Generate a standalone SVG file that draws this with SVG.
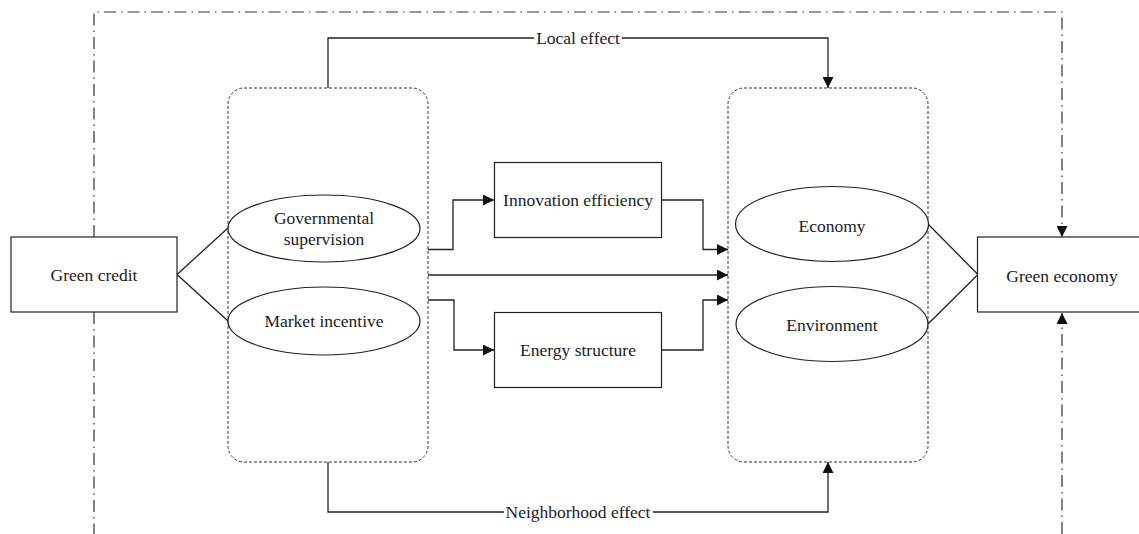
<svg xmlns="http://www.w3.org/2000/svg" width="1139" height="534" viewBox="0 0 1139 534">
<style>
text{font-family:"Liberation Serif","Times New Roman",serif;font-size:17.5px;fill:#222;text-anchor:middle}
.box{fill:#fff;stroke:#222;stroke-width:1.2}
.ell{fill:#fff;stroke:#222;stroke-width:1.2}
.grp{fill:none;stroke:#333;stroke-width:1;stroke-dasharray:3 2}
.ln{fill:none;stroke:#222;stroke-width:1.3}
.arr{fill:none;stroke:#222;stroke-width:1.3;marker-end:url(#ah)}
.dd{fill:none;stroke:#333;stroke-width:1.2;stroke-dasharray:12 5 1.5 5}
.lbl{fill:#fff;stroke:none}
</style>
<defs>
<marker id="ah" markerUnits="userSpaceOnUse" markerWidth="12" markerHeight="11" refX="11" refY="5.5" orient="auto">
<path d="M0,0 L11,5.5 L0,11 z" fill="#111"/>
</marker>
</defs>
<rect width="1139" height="534" fill="#fff"/>
<g id="connectors">
<path class="dd" d="M94,237 V12 H1062 V237" marker-end="url(#ah)"/>
<path class="dd" d="M94,312 V534"/>
<path class="dd" d="M1062,534 V313" marker-end="url(#ah)"/>
<path class="arr" d="M328,88 V38 H828 V88"/>
<path class="arr" d="M328,462 V512 H828 V462"/>
<rect class="lbl" x="534" y="28" width="88" height="20"/>
<text x="578" y="44">Local effect</text>
<rect class="lbl" x="504" y="502" width="149" height="20"/>
<text x="578" y="518">Neighborhood effect</text>
<path class="arr" d="M428,249.5 H453 V200 H494"/>
<path class="arr" d="M661.5,200 H703 V249.5 H728"/>
<path class="arr" d="M428,275 H728"/>
<path class="arr" d="M428,300 H454 V350 H494"/>
<path class="arr" d="M661.5,350 H703 V300 H728"/>
<path class="ln" d="M228,228 L177,274.5 L228,321"/>
<path class="ln" d="M928,224 L978,274.5 L928,324"/>
</g>
<g id="left-group">
<rect class="grp" x="228" y="88" width="200" height="374" rx="16"/>
</g>
<g id="right-group">
<rect class="grp" x="728" y="88" width="200" height="374" rx="16"/>
</g>
<g id="green-credit">
<rect class="box" x="11" y="237" width="166" height="75"/>
<text x="94" y="281">Green credit</text>
</g>
<g id="green-economy">
<rect class="box" x="977.5" y="237" width="170" height="75"/>
<text x="1062" y="282">Green economy</text>
</g>
<g id="governmental-supervision">
<ellipse class="ell" cx="324" cy="228.5" rx="96" ry="33.5"/>
<text x="324" y="224">Governmental</text>
<text x="324" y="245">supervision</text>
</g>
<g id="market-incentive">
<ellipse class="ell" cx="324" cy="321" rx="96" ry="34"/>
<text x="324" y="327">Market incentive</text>
</g>
<g id="innovation-efficiency">
<rect class="box" x="494.5" y="162.5" width="167" height="75"/>
<text x="578" y="206">Innovation efficiency</text>
</g>
<g id="energy-structure">
<rect class="box" x="494.5" y="312.5" width="167" height="75"/>
<text x="578" y="356">Energy structure</text>
</g>
<g id="economy">
<ellipse class="ell" cx="832" cy="224" rx="96.5" ry="37.5"/>
<text x="832" y="232">Economy</text>
</g>
<g id="environment">
<ellipse class="ell" cx="832" cy="324" rx="96" ry="37.5"/>
<text x="832" y="331">Environment</text>
</g>
</svg>
